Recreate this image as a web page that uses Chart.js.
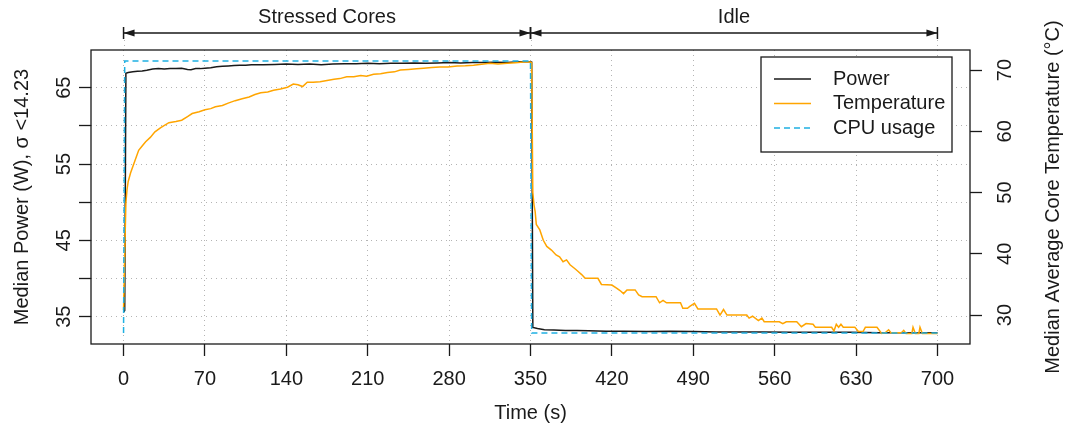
<!DOCTYPE html>
<html>
<head>
<meta charset="utf-8">
<script src="https://cdn.jsdelivr.net/npm/chart.js@4"></script>
<style>
    body { margin: 0; background: #fff; }
    #caixa { width: 1067px; height: 431px; }
</style>
</head>
<body>
<div id="caixa"><canvas id="grafico"></canvas></div>
<script>
// eixos
const xTicks = [0, 70, 140, 210, 280, 350, 420, 490, 560, 630, 700];
const powerTicks = [35, 40, 45, 50, 55, 60, 65];
const powerTickLabels = ['35', '', '45', '', '55', '', '65'];
const tempTicks = [30, 40, 50, 60, 70];

// fases no topo
const phaseLabels = ['Stressed Cores', 'Idle'];
const phaseStart = [0, 350];
const phaseEnd = [350, 700];

// potência (W)
const powerTime = [0, 1, 2, 4, 8, 12, 16, 20, 25, 30, 35, 40, 45, 50, 55, 58, 62, 66, 70, 75, 80, 85, 90, 95, 100, 105, 110, 120, 130, 140, 150, 160, 170, 180, 190, 200, 210, 220, 230, 240, 250, 260, 270, 280, 290, 300, 310, 320, 330, 340, 350, 351, 352, 356, 362, 370, 380, 390, 400, 415, 430, 450, 470, 490, 510, 530, 550, 575, 600, 625, 650, 675, 700];
const powerValues = [35.6, 35.8, 66.9, 67.0, 67.1, 67.15, 67.2, 67.3, 67.45, 67.5, 67.45, 67.5, 67.5, 67.55, 67.4, 67.35, 67.5, 67.5, 67.55, 67.6, 67.75, 67.8, 67.85, 67.9, 67.95, 67.95, 68.0, 68.0, 68.05, 68.1, 68.05, 68.1, 68.0, 68.1, 68.15, 68.15, 68.2, 68.15, 68.2, 68.2, 68.25, 68.2, 68.25, 68.3, 68.25, 68.3, 68.3, 68.35, 68.3, 68.4, 68.4, 68.35, 33.6, 33.45, 33.3, 33.25, 33.2, 33.2, 33.15, 33.1, 33.1, 33.05, 33.1, 33.05, 33.0, 33.0, 33.0, 32.95, 32.95, 32.95, 32.9, 32.9, 32.9];

// temperatura (°C)
const tempTime = [0, 1, 2, 3, 4, 6, 9, 13, 16, 19, 23, 27, 32, 39, 45, 50, 55, 59, 65, 70, 75, 79, 85, 90, 96, 102, 108, 113, 118, 124, 129, 135, 141, 146, 150, 154, 158, 163, 169, 175, 181, 186, 192, 198, 204, 209, 215, 221, 227, 233, 238, 245, 252, 258, 265, 272, 279, 287, 294, 301, 308, 315, 322, 330, 337, 344, 350, 351, 352, 353, 354, 355, 358, 361, 364, 368, 372, 375, 378, 381, 384, 388, 391, 394, 397, 408, 411, 420, 424, 427, 430, 433, 440, 443, 446, 458, 461, 464, 467, 479, 481, 485, 487, 491, 494, 510, 513, 516, 519, 536, 538, 541, 546, 549, 551, 564, 567, 570, 579, 583, 587, 593, 595, 609, 611, 613, 615, 617, 619, 629, 632, 636, 638, 648, 652, 655, 658, 660, 669, 671, 673, 678, 679, 681, 684, 685, 687, 700];
const tempValues = [30.8, 40.0, 48.3, 50.5, 51.8, 53.2, 54.8, 56.9, 57.6, 58.3, 59.0, 59.9, 60.6, 61.4, 61.6, 61.8, 62.4, 62.9, 63.2, 63.5, 63.7, 64.0, 64.2, 64.6, 65.0, 65.3, 65.6, 66.0, 66.3, 66.4, 66.7, 66.9, 67.2, 67.7, 67.6, 67.3, 68.0, 68.0, 68.1, 68.3, 68.5, 68.6, 68.9, 68.9, 69.1, 69.0, 69.3, 69.4, 69.6, 69.7, 70.0, 70.1, 70.2, 70.3, 70.4, 70.5, 70.5, 70.65, 70.7, 70.8, 70.95, 71.1, 71.0, 71.1, 71.2, 71.3, 71.3, 71.2, 50.0, 48.0, 46.9, 44.8, 43.9, 42.2, 41.2, 40.6, 39.8, 39.5, 38.7, 39.0, 38.2, 37.6, 37.1, 36.6, 36.0, 36.0, 35.0, 34.9, 34.4, 34.0, 33.5, 34.1, 34.1, 33.3, 33.0, 33.0, 32.0, 32.4, 32.0, 32.0, 31.1, 31.1, 31.4, 31.9, 31.0, 31.0, 30.0, 30.9, 30.0, 30.0, 29.5, 29.8, 29.1, 29.5, 28.9, 28.9, 28.6, 28.9, 28.9, 28.1, 28.6, 28.5, 28.0, 28.0, 27.4, 28.5, 28.0, 28.5, 28.0, 28.0, 27.3, 27.3, 28.0, 28.0, 27.0, 27.1, 27.6, 27.1, 27.1, 27.5, 27.0, 27.0, 28.0, 27.0, 27.0, 28.0, 27.0, 27.0];

// utilização do CPU (%)
const cpuTime = [0, 1, 350, 351, 700];
const cpuValues = [0, 100, 100, 0, 0];

const FONTE = '20px "Liberation Sans", Arial, sans-serif';
const TINTA = '#1a1a1a';
const COR_TEMP = '#ffa500';
const COR_CPU = '#1fb0e2';
const COR_GRELHA = '#b4b4b4';

function pontos(tempos, valores) {
    return tempos.map((t, i) => ({ x: t, y: valores[i] }));
}

function textoVertical(ctx, texto, x, y) {
    ctx.save();
    ctx.translate(x, y);
    ctx.rotate(-Math.PI / 2);
    ctx.fillText(texto, 0, 0);
    ctx.restore();
}

function setaDupla(ctx, x1, x2, y) {
    const comp = 11, meia = 3.5;
    ctx.beginPath();
    ctx.moveTo(x1, y); ctx.lineTo(x2, y);
    ctx.moveTo(x1, y - 6); ctx.lineTo(x1, y + 6);
    ctx.moveTo(x2, y - 6); ctx.lineTo(x2, y + 6);
    ctx.stroke();
    ctx.beginPath();
    ctx.moveTo(x1, y); ctx.lineTo(x1 + comp, y - meia); ctx.lineTo(x1 + comp, y + meia); ctx.closePath();
    ctx.moveTo(x2, y); ctx.lineTo(x2 - comp, y - meia); ctx.lineTo(x2 - comp, y + meia); ctx.closePath();
    ctx.fill();
}

const decoracao = {
    id: 'decoracao',
    afterDraw(chart) {
        const { ctx, chartArea: a, scales } = chart;
        const x = scales.x, yP = scales.yPower, yT = scales.yTemp;
        const meio = (a.top + a.bottom) / 2;

        ctx.save();
        // caixa do gráfico
        ctx.strokeStyle = TINTA;
        ctx.lineWidth = 1.3;
        ctx.strokeRect(a.left, a.top, a.right - a.left, a.bottom - a.top);

        ctx.fillStyle = TINTA;
        ctx.font = FONTE;
        ctx.textAlign = 'center';
        ctx.textBaseline = 'middle';

        xTicks.forEach(v => ctx.fillText(String(v), x.getPixelForValue(v), a.bottom + 35));
        ctx.fillText('Time (s)', (a.left + a.right) / 2, a.bottom + 69);

        powerTicks.forEach((v, i) => {
            if (powerTickLabels[i]) textoVertical(ctx, powerTickLabels[i], a.left - 27, yP.getPixelForValue(v));
        });
        tempTicks.forEach(v => textoVertical(ctx, String(v), a.right + 35, yT.getPixelForValue(v)));
        textoVertical(ctx, 'Median Power (W), \u03c3 <14.23', 22, meio);
        textoVertical(ctx, 'Median Average Core Temperature (\u00b0C)', a.right + 83, meio);

        // fases
        ctx.lineWidth = 1.5;
        phaseLabels.forEach((nome, i) => {
            const x1 = x.getPixelForValue(phaseStart[i]);
            const x2 = x.getPixelForValue(phaseEnd[i]);
            setaDupla(ctx, x1, x2, a.top - 17);
            ctx.fillText(nome, (x1 + x2) / 2, a.top - 33);
        });
        ctx.save();
        ctx.strokeStyle = COR_GRELHA;
        ctx.lineWidth = 1;
        ctx.setLineDash([1, 4]);
        [0, 350, 700].forEach(v => {
            const px = Math.round(x.getPixelForValue(v)) + 0.5;
            ctx.beginPath();
            ctx.moveTo(px, a.top - 10);
            ctx.lineTo(px, a.top);
            ctx.stroke();
        });
        ctx.restore();

        // legenda
        const lx = a.right - 209, ly = a.top + 7, lw = 191, lh = 95;
        ctx.fillStyle = '#fff';
        ctx.fillRect(lx, ly, lw, lh);
        ctx.strokeStyle = TINTA;
        ctx.lineWidth = 1.3;
        ctx.strokeRect(lx, ly, lw, lh);
        const itens = [
            { nome: 'Power', cor: TINTA, traco: [] },
            { nome: 'Temperature', cor: COR_TEMP, traco: [] },
            { nome: 'CPU usage', cor: COR_CPU, traco: [6, 4] }
        ];
        ctx.textAlign = 'left';
        itens.forEach((it, i) => {
            const yy = ly + 22 + i * 24.5;
            ctx.strokeStyle = it.cor;
            ctx.lineWidth = 1.5;
            ctx.setLineDash(it.traco);
            ctx.beginPath();
            ctx.moveTo(lx + 13, yy);
            ctx.lineTo(lx + 50, yy);
            ctx.stroke();
            ctx.setLineDash([]);
            ctx.fillStyle = TINTA;
            ctx.fillText(it.nome, lx + 72, yy);
        });
        ctx.restore();
    }
};

const grelha = {
    color: COR_GRELHA,
    lineWidth: 1,
    drawTicks: true,
    tickLength: 12,
    tickColor: TINTA,
    tickWidth: 1.3,
    tickBorderDash: []
};
// em v4 o tracejado das linhas da grelha vem de border.dash
const borda = { display: false, dash: [1, 4] };

new Chart(document.getElementById('grafico'), {
    type: 'line',
    data: {
        datasets: [
            {
                label: 'Power',
                data: pontos(powerTime, powerValues),
                yAxisID: 'yPower',
                borderColor: TINTA,
                borderWidth: 1.5,
                pointRadius: 0,
                order: 3
            },
            {
                label: 'Temperature',
                data: pontos(tempTime, tempValues),
                yAxisID: 'yTemp',
                borderColor: COR_TEMP,
                borderWidth: 1.5,
                pointRadius: 0,
                order: 2
            },
            {
                label: 'CPU usage',
                data: pontos(cpuTime, cpuValues),
                yAxisID: 'yCpu',
                borderColor: COR_CPU,
                borderWidth: 1.5,
                borderDash: [6, 4],
                pointRadius: 0,
                order: 1
            }
        ]
    },
    options: {
        responsive: true,
        maintainAspectRatio: false,
        animation: false,
        layout: { padding: { top: 50, left: 0, right: 0, bottom: 0 } },
        plugins: { legend: { display: false }, tooltip: { enabled: false } },
        elements: { line: { tension: 0 } },
        scales: {
            x: {
                type: 'linear',
                min: -28,
                max: 728,
                border: borda,
                grid: grelha,
                ticks: { display: false },
                afterBuildTicks: s => { s.ticks = xTicks.map(v => ({ value: v })); },
                afterFit: s => { s.height = 87; }
            },
            yPower: {
                position: 'left',
                min: 31.42,
                max: 69.94,
                border: borda,
                grid: grelha,
                ticks: { display: false },
                afterBuildTicks: s => { s.ticks = powerTicks.map(v => ({ value: v })); },
                afterFit: s => { s.width = 91; }
            },
            yTemp: {
                position: 'right',
                min: 25.27,
                max: 73.27,
                border: borda,
                grid: Object.assign({}, grelha, { drawOnChartArea: false }),
                ticks: { display: false },
                afterBuildTicks: s => { s.ticks = tempTicks.map(v => ({ value: v })); },
                afterFit: s => { s.width = 97; }
            },
            yCpu: {
                display: false,
                min: -4,
                max: 104
            }
        }
    },
    plugins: [decoracao]
});
</script>
</body>
</html>
